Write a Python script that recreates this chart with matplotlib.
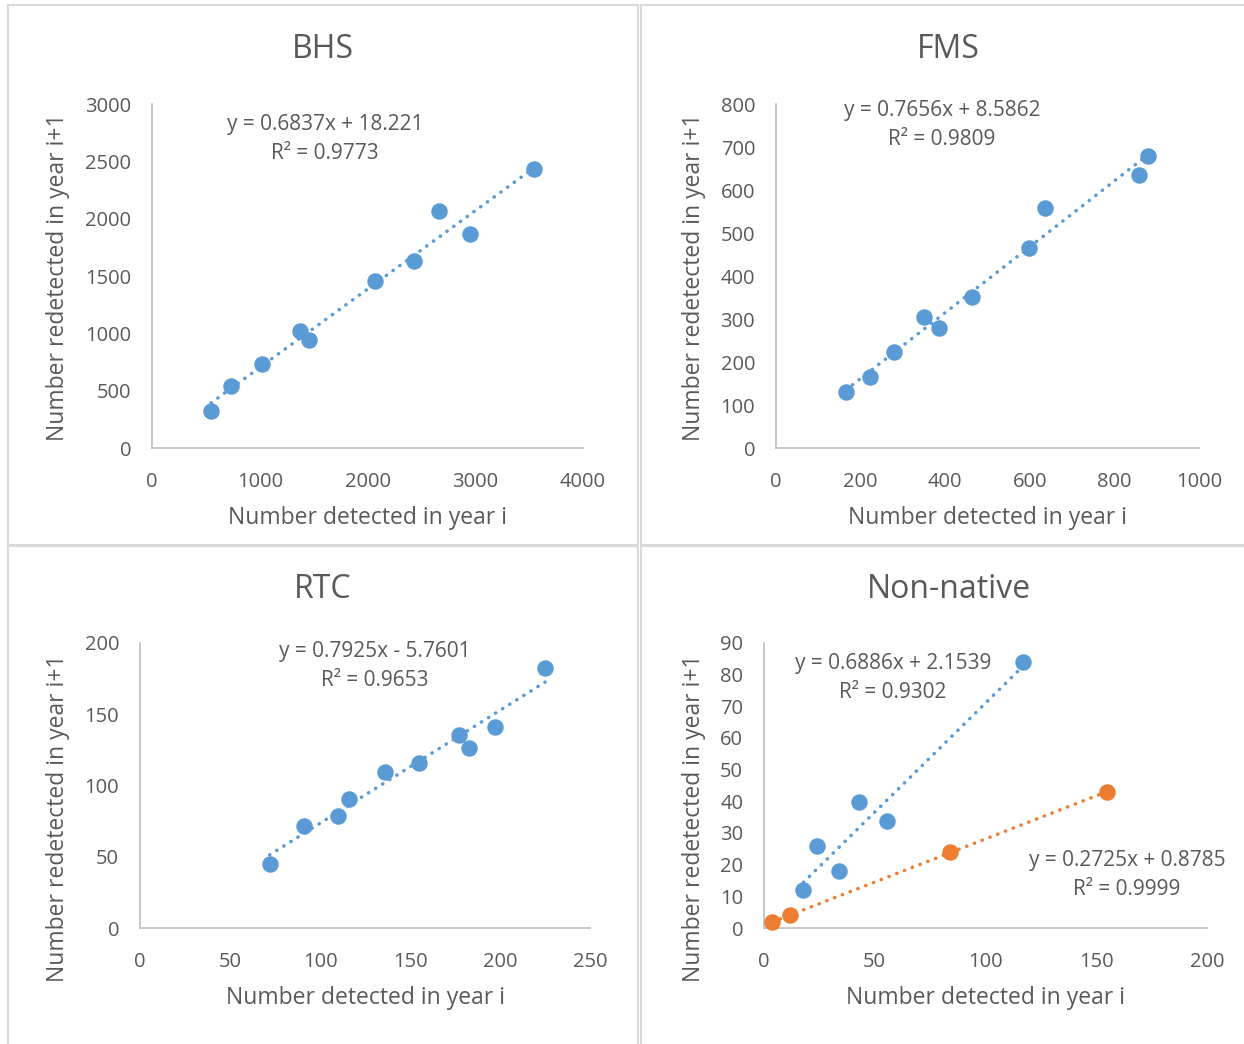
import numpy as np
import matplotlib
matplotlib.use("Agg")
import matplotlib.pyplot as plt
from matplotlib.patches import Rectangle

plt.rcParams['font.family'] = ['Open Sans', 'DejaVu Sans']

# data
bhs_x = [548, 733, 1018, 1377, 1460, 2073, 2435, 2664, 2951, 3545]
bhs_y = [325, 543, 732, 1017, 942, 1456, 1631, 2067, 1866, 2433]
bhs_fit = (0.6837, 18.221)

fms_x = [165, 222, 280, 351, 385, 463, 597, 636, 859, 880]
fms_y = [130, 165, 223, 305, 280, 352, 464, 558, 636, 678]
fms_fit = (0.7656, 8.5862)

rtc_x = [72, 91, 110, 116, 136, 155, 177, 183, 197, 225]
rtc_y = [44.7, 71.8, 78.8, 90.5, 109.7, 115.6, 135.7, 126.5, 141.3, 182.5]
rtc_fit = (0.7925, -5.7601)

nn_blue_x = [17.8, 23.8, 33.7, 42.8, 55.7, 117]
nn_blue_y = [11.9, 25.9, 17.9, 39.9, 33.9, 83.9]
nn_blue_fit = (0.6886, 2.1539)
nn_orange_x = [3.8, 11.7, 84, 155]
nn_orange_y = [1.9, 4.0, 24.0, 42.9]
nn_orange_fit = (0.2725, 0.8785)

eq_labels = {
    'BHS': ["y = 0.6837x + 18.221\nR² = 0.9773"],
    'FMS': ["y = 0.7656x + 8.5862\nR² = 0.9809"],
    'RTC': ["y = 0.7925x - 5.7601\nR² = 0.9653"],
    'Non-native': ["y = 0.6886x + 2.1539\nR² = 0.9302",
                   "y = 0.2725x + 0.8785\nR² = 0.9999"],
}

BLUE = '#5B9BD5'
ORANGE = '#ED7D31'
TXT = '#595959'
AXC = '#BFBFBF'

W, H = 1244, 1044
fig = plt.figure(figsize=(W / 100, H / 100), dpi=100)


def px_box(l, t, r, b):
    return [l / W, 1 - b / H, (r - l) / W, (b - t) / H]


# chart frames
for (l, t, r, b) in [(8, 5, 638, 545), (641, 5, 1250, 545),
                     (8, 546, 638, 1050), (641, 546, 1250, 1050)]:
    fig.patches.append(Rectangle((l / W, 1 - b / H), (r - l) / W, (b - t) / H,
                                 transform=fig.transFigure, fill=False,
                                 edgecolor='#D9D9D9', lw=1.5))


def setup(ax, xmax, xstep, ymax, ystep):
    ax.set_xlim(0, xmax)
    ax.set_ylim(0, ymax)
    ax.set_xticks(np.arange(0, xmax + 1e-9, xstep))
    ax.set_yticks(np.arange(0, ymax + 1e-9, ystep))
    for s in ['top', 'right']:
        ax.spines[s].set_visible(False)
    for s in ['left', 'bottom']:
        ax.spines[s].set_color(AXC)
        ax.spines[s].set_linewidth(1.2)
    ax.tick_params(length=0, labelsize=14.5, colors=TXT)
    ax.tick_params(axis='x', pad=17)
    ax.tick_params(axis='y', pad=15)
    ax.patch.set_alpha(0)


def series(ax, xs, ys, fit, color):
    m, b = fit
    xx = np.array([min(xs), max(xs)])
    ax.plot(xx, m * xx + b, color=color, lw=2.5, linestyle=(0, (0.1, 2.3)),
            dash_capstyle='round', zorder=2, clip_on=False)
    ax.scatter(xs, ys, s=118, color=color, edgecolors=color, zorder=3,
               clip_on=False)


def labels(ax, title, tx, ty, xl, xlx, xly, yl, ylx, yly):
    fig.text(tx / W, 1 - ty / H, title, ha='center', va='center',
             fontsize=23, color=TXT)
    fig.text(xlx / W, 1 - xly / H, xl, ha='center', va='center',
             fontsize=16.5, color=TXT)
    fig.text(ylx / W, 1 - yly / H, yl, ha='center', va='center',
             fontsize=16.5, color=TXT, rotation=90)


def eq(text, cx, cy):
    fig.text(cx / W, 1 - cy / H, text, ha='center', va='center',
             fontsize=15, color=TXT, linespacing=1.55, multialignment='center')


xlab = "Number detected in year i"
ylab = "Number redetected in year i+1"

# BHS
ax1 = fig.add_axes(px_box(152, 104, 583, 448))
setup(ax1, 4000, 1000, 3000, 500)
series(ax1, bhs_x, bhs_y, bhs_fit, BLUE)
labels(ax1, 'BHS', 323, 50, xlab, 368, 518, ylab, 58, 277)
eq(eq_labels['BHS'][0], 325, 139)

# FMS
ax2 = fig.add_axes(px_box(776, 104, 1199, 448))
setup(ax2, 1000, 200, 800, 100)
series(ax2, fms_x, fms_y, fms_fit, BLUE)
labels(ax2, 'FMS', 948, 50, xlab, 988, 518, ylab, 694, 277)
eq(eq_labels['FMS'][0], 942, 125)

# RTC
ax3 = fig.add_axes(px_box(140, 643, 590, 928))
setup(ax3, 250, 50, 200, 50)
series(ax3, rtc_x, rtc_y, rtc_fit, BLUE)
labels(ax3, 'RTC', 323, 590, xlab, 365, 998, ylab, 58, 818)
eq(eq_labels['RTC'][0], 375, 666)

# Non-native
ax4 = fig.add_axes(px_box(764, 643, 1207, 928))
setup(ax4, 200, 50, 90, 10)
series(ax4, nn_blue_x, nn_blue_y, nn_blue_fit, BLUE)
series(ax4, nn_orange_x, nn_orange_y, nn_orange_fit, ORANGE)
labels(ax4, 'Non-native', 949, 590, xlab, 985, 998, ylab, 694, 818)
eq(eq_labels['Non-native'][0], 893, 678)
eq(eq_labels['Non-native'][1], 1127, 875)

fig.savefig('out.png', dpi=100)
